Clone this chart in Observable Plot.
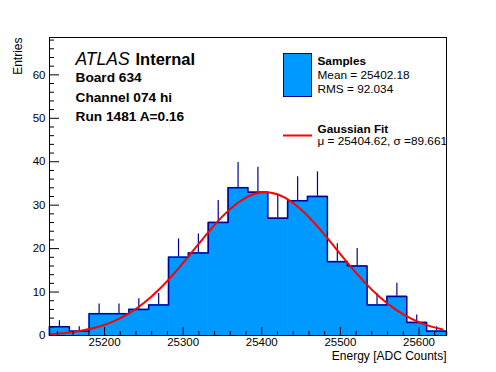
<!DOCTYPE html>
<html><head><meta charset="utf-8">
<script src="https://cdn.jsdelivr.net/npm/d3@7"></script>
<script src="https://cdn.jsdelivr.net/npm/@observablehq/plot@0.6"></script>
<style>body{margin:0;background:#fff;} svg{display:block;}</style>
</head><body><div id="chart"></div>
<script>
// ---- data ----
const binEdges = [25130, 25155.25, 25180.5, 25205.75, 25231, 25256.25, 25281.5, 25306.75, 25332, 25357.25,
  25382.5, 25407.75, 25433, 25458.25, 25483.5, 25508.75, 25534, 25559.25, 25584.5, 25609.75, 25635];
const counts = [2, 1, 5, 5, 6, 7, 18, 19, 26, 34, 33, 27, 31, 32, 17, 16, 7, 9, 3, 1];
const errors = [1.41, 1.0, 2.24, 2.24, 2.45, 2.65, 4.24, 4.36, 5.10, 5.83, 5.74, 5.20, 5.57, 5.66, 4.12, 4.0, 2.65, 3.0, 1.73, 1.0];
const fitX = [25130, 25150, 25170, 25190, 25210, 25230, 25250, 25270, 25290, 25310, 25330, 25350, 25370,
  25390, 25410, 25430, 25450, 25470, 25490, 25510, 25530, 25550, 25570, 25590, 25610, 25630];
const fitY = [0.30, 0.59, 1.08, 1.88, 3.13, 4.96, 7.47, 10.69, 14.58, 18.91, 23.34, 27.42, 30.63,
  32.56, 32.94, 31.70, 29.03, 25.29, 20.97, 16.54, 12.41, 8.86, 6.02, 3.89, 2.39, 1.40];
const xMajorTicks = [25200, 25300, 25400, 25500, 25600];
const xMinorTicks = [25140,25160,25180,25220,25240,25260,25280,25320,25340,25360,25380,25420,25440,25460,25480,25520,25540,25560,25580,25620];
const yMajorTicks = [0, 10, 20, 30, 40, 50, 60];
const yMinorTicks = [2,4,6,8,12,14,16,18,22,24,26,28,32,34,36,38,42,44,46,48,52,54,56,58,62,64,66,68];
const infoLines = ["Board 634", "Channel 074 hi", "Run 1481 A=0.16"];
const legendSamples = ["Samples", "Mean = 25402.18", "RMS = 92.034"];
const legendFit = ["Gaussian Fit", "μ = 25404.62, σ =89.661"];
const xTitle = "Energy [ADC Counts]";
const yTitle = "Entries";

// ---- derived tables ----
const bins = counts.map((c, i) => ({x1: binEdges[i], x2: binEdges[i + 1], xc: (binEdges[i] + binEdges[i + 1]) / 2, y: c, e: errors[i]}));
const outline = [{x: binEdges[0], y: 0}];
bins.forEach(b => { outline.push({x: b.x1, y: b.y}); outline.push({x: b.x2, y: b.y}); });
outline.push({x: binEdges[binEdges.length - 1], y: 0});
const fit = fitX.map((x, i) => ({x, y: fitY[i]}));

const FONT = "'Liberation Sans', Arial, Helvetica, sans-serif";
const FILL = "#0099ff", LINE = "#000099";

function legend() {
  const g = d3.create("svg:g").attr("font-family", FONT).attr("fill", "black").attr("text-anchor", "start");
  g.append("rect").attr("x", 283.5).attr("y", 53.5).attr("width", 28).attr("height", 43)
    .attr("fill", FILL).attr("stroke", LINE).attr("stroke-width", 1);
  g.append("line").attr("x1", 283).attr("x2", 312).attr("y1", 135.5).attr("y2", 135.5)
    .attr("stroke", "red").attr("stroke-width", 2);
  const tx = 317.5;
  const rows = [
    [legendSamples[0], 65, "bold"], [legendSamples[1], 79.3, "normal"], [legendSamples[2], 93.3, "normal"],
    [legendFit[0], 132.5, "bold"], [legendFit[1], 145, "normal"]
  ];
  rows.forEach(([t, y, w]) => g.append("text").attr("x", tx).attr("y", y).attr("font-weight", w)
    .attr("font-size", 11.8).attr("text-anchor", "start").text(t));
  return g.node();
}

const infoMarks = infoLines.map((t, i) => Plot.text([t], {frameAnchor: "top-left", dx: 26, dy: [44.5, 64, 83.5][i],
  textAnchor: "start", lineAnchor: "bottom", fontSize: 13.7, fontWeight: "bold"}));

const chart = Plot.plot({
  width: 496, height: 372,
  marginLeft: 49, marginRight: 50, marginTop: 37, marginBottom: 37,
  style: {fontFamily: FONT, fontSize: "11.5px", background: "white", color: "black"},
  x: {domain: [binEdges[0], binEdges[binEdges.length - 1]]},
  y: {domain: [0, 68.6]},
  marks: [
    Plot.ruleX(bins, {x: "xc", y1: "y", y2: d => d.y + d.e, stroke: LINE, strokeWidth: 1.2}),
    Plot.rectY(bins, {x1: "x1", x2: "x2", y: "y", fill: FILL, stroke: FILL, strokeWidth: 0.8}),
    Plot.line(outline, {x: "x", y: "y", stroke: LINE, strokeWidth: 1.5}),
    Plot.line(fit, {x: "x", y: "y", stroke: "red", strokeWidth: 2, curve: "natural", clip: true}),
    Plot.tickX(xMajorTicks, {x: d => d, insetTop: 290, stroke: "black"}),
    Plot.tickX(xMinorTicks, {x: d => d, insetTop: 294, stroke: "black"}),
    Plot.tickY(yMajorTicks, {y: d => d, insetRight: 387, stroke: "black"}),
    Plot.tickY(yMinorTicks, {y: d => d, insetRight: 392, stroke: "black"}),
    Plot.axisX(xMajorTicks, {tickSize: 0, tickPadding: 2, label: null, tickFormat: d => String(d)}),
    Plot.axisY(yMajorTicks, {tickSize: 0, tickPadding: 4, label: null}),
    Plot.frame({stroke: "black"}),
    Plot.text([xTitle], {frameAnchor: "bottom-right", dy: 24, textAnchor: "end", lineAnchor: "bottom", fontSize: 12}),
    Plot.text([yTitle], {frameAnchor: "top-left", dx: -31, dy: 0, rotate: -90, textAnchor: "end", lineAnchor: "middle", fontSize: 12}),
    Plot.text(["ATLAS"], {frameAnchor: "top-left", dx: 26, dy: 27, textAnchor: "start", lineAnchor: "bottom", fontSize: 17.5, fontStyle: "italic"}),
    Plot.text(["Internal"], {frameAnchor: "top-left", dx: 86, dy: 27, textAnchor: "start", lineAnchor: "bottom", fontSize: 16.5, fontWeight: "bold"}),
    ...infoMarks,
    legend
  ]
});
document.getElementById("chart").appendChild(chart);
</script>
</body></html>
